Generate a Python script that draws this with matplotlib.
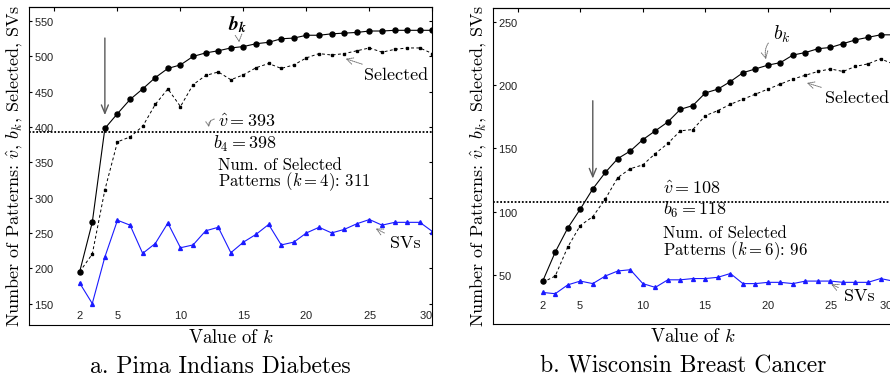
import matplotlib.pyplot as plt
import numpy as np

plt.rcParams['font.family'] = 'cmr10'
plt.rcParams['mathtext.fontset'] = 'cm'
plt.rcParams['axes.formatter.use_mathtext'] = True

k_values = np.arange(2, 31)
x_ticks = [2, 5, 10, 15, 20, 25, 30]

# Pima Indians Diabetes
pima_bk = [195, 265, 398, 419, 439, 454, 470, 483, 488, 500, 505, 508, 512, 514, 518,
           520, 525, 526, 530, 530, 532, 533, 534, 536, 536, 537, 537, 537, 537]
pima_selected = [195, 220, 311, 379, 386, 401, 432, 454, 429, 460, 473, 478, 467, 474, 484,
                 490, 483, 488, 498, 504, 502, 504, 508, 512, 506, 510, 512, 512, 504]
pima_svs = [179, 150, 216, 268, 261, 221, 235, 264, 229, 233, 253, 258, 222, 237, 248,
            262, 233, 237, 250, 258, 250, 255, 263, 269, 261, 265, 265, 265, 252]
pima_vhat = 393
pima_k = 4
pima_n_selected = 311
pima_yticks = [150, 200, 250, 300, 350, 400, 450, 500, 550]

# Wisconsin Breast Cancer
wbc_bk = [45, 68, 87, 102, 118, 131, 142, 148, 157, 164, 171, 181, 184, 194, 197,
          203, 210, 213, 216, 218, 224, 226, 229, 230, 233, 236, 238, 240, 240]
wbc_selected = [44, 49, 72, 89, 96, 110, 127, 134, 137, 146, 154, 164, 165, 176, 180,
                185, 189, 193, 197, 201, 205, 208, 211, 213, 211, 215, 217, 221, 217]
wbc_svs = [36, 35, 42, 45, 43, 49, 53, 54, 43, 40, 46, 46, 47, 47, 48,
           51, 43, 43, 44, 44, 43, 45, 45, 45, 44, 44, 44, 47, 45]
wbc_vhat = 108
wbc_k = 6
wbc_n_selected = 96
wbc_yticks = [50, 100, 150, 200, 250]

TEXT_SIZE = 13
NOTE_ARROW = dict(arrowstyle='->,head_length=0.35,head_width=0.18', color='0.45',
                  lw=0.7, ls=(0, (1, 1)))


def setup_axes(ax, ylim, yticks, xlabel_pad):
    ax.set_xlim(-2, 30)
    ax.set_ylim(*ylim)
    ax.set_xticks(x_ticks)
    ax.set_yticks(yticks)
    ax.tick_params(axis='x', direction='in', length=0, pad=-xlabel_pad,
                   labelsize=8, labelcolor='#222222')
    ax.tick_params(axis='y', direction='in', length=2.5, pad=-3.5, left=True, right=True,
                   labelsize=8, labelcolor='#222222')
    for lbl in ax.get_xticklabels() + ax.get_yticklabels():
        lbl.set_fontfamily('Liberation Sans')
    for lbl in ax.get_yticklabels():
        lbl.set_horizontalalignment('left')
    ax.get_xticklabels()[-1].set_horizontalalignment('right')
    top = ax.secondary_xaxis('top')
    top.set_xticks(range(0, 31, 5), labels=[''] * 7)
    top.tick_params(direction='in', length=3)
    for s in ax.spines.values():
        s.set_linewidth(0.8)
    ax.set_xlabel('Value of $k$', fontsize=13.5)
    ax.xaxis.set_label_coords(0.5, -0.012)
    ax.set_ylabel(r'Number of Patterns: $\hat{v}$, $b_k$, Selected, SVs', fontsize=13)
    ax.yaxis.set_label_coords(-0.012, 0.5)


def draw_series(ax, bk, selected, svs, vhat):
    ax.plot(k_values, bk, color='k', lw=0.8, marker='o', ms=3.6)
    ax.plot(k_values, selected, color='k', lw=0.7, ls=(0, (3, 2.5)), marker='s', ms=1.8)
    ax.plot(k_values, svs, color='#1a1aff', lw=0.8, marker='^', ms=2.8)
    ax.axhline(vhat, color='k', lw=1.3, ls=(0, (1, 1)))


fig = plt.figure(figsize=(8.9, 3.83), dpi=100)

# a. Pima Indians Diabetes
ax1 = fig.add_axes([0.0329, 0.1522, 0.4530, 0.8295])
draw_series(ax1, pima_bk, pima_selected, pima_svs, pima_vhat)
setup_axes(ax1, (120, 570), pima_yticks, 11)
bk4 = pima_bk[pima_k - 2]
ax1.annotate('', xy=(pima_k, bk4 + 15), xytext=(pima_k, 530),
             arrowprops=dict(arrowstyle='->,head_length=0.6,head_width=0.25', color='0.35', lw=1))
ax1.annotate(r'$\mathbfit{b}_{\mathbfit{k}}$', xy=(14.66, 520), xytext=(14.5, 546), fontsize=14,
             math_fontfamily='stix', ha='center', va='center', arrowprops=NOTE_ARROW)
ax1.annotate('Selected', xy=(22.9, 498), xytext=(24.6, 473), fontsize=TEXT_SIZE,
             ha='left', va='center', arrowprops=NOTE_ARROW)
ax1.annotate('SVs', xy=(25.3, 258), xytext=(26.6, 235), fontsize=TEXT_SIZE,
             ha='left', va='center', arrowprops=NOTE_ARROW)
ax1.annotate('', xy=(12.3, 396), xytext=(12.9, 412),
             arrowprops=dict(NOTE_ARROW, connectionstyle='arc3,rad=0.6'))
ax1.text(13.0, 408, r'$\hat{v}=%d$' % pima_vhat, fontsize=TEXT_SIZE, ha='left', va='center')
ax1.text(12.6, 376, r'$b_{%d}=%d$' % (pima_k, bk4), fontsize=TEXT_SIZE, ha='left', va='center')
ax1.text(13.0, 346, 'Num. of Selected', fontsize=12, ha='left', va='center')
ax1.text(13.0, 322, r'Patterns ($k=%d$): %d' % (pima_k, pima_n_selected), fontsize=12,
         ha='left', va='center')

# b. Wisconsin Breast Cancer
ax2 = fig.add_axes([0.5536, 0.154, 0.4498, 0.8243])
draw_series(ax2, wbc_bk, wbc_selected, wbc_svs, wbc_vhat)
setup_axes(ax2, (11, 261), wbc_yticks, 18)
bk6 = wbc_bk[wbc_k - 2]
ax2.annotate('', xy=(wbc_k, bk6 + 6), xytext=(wbc_k, 190),
             arrowprops=dict(arrowstyle='->,head_length=0.6,head_width=0.25', color='0.35', lw=1))
ax2.annotate('$b_k$', xy=(19.9, 218.5), xytext=(20.4, 240), fontsize=14,
             ha='left', va='center',
             arrowprops=dict(NOTE_ARROW, connectionstyle='arc3,rad=0.5'))
ax2.annotate('Selected', xy=(22.9, 202.6), xytext=(24.6, 189.5), fontsize=TEXT_SIZE,
             ha='left', va='center', arrowprops=NOTE_ARROW)
ax2.annotate('SVs', xy=(24.85, 43.3), xytext=(26.05, 32.7), fontsize=TEXT_SIZE,
             ha='left', va='center', arrowprops=NOTE_ARROW)
ax2.text(11.6, 118.4, r'$\hat{v}=%d$' % wbc_vhat, fontsize=TEXT_SIZE, ha='left', va='center')
ax2.text(11.6, 101, r'$b_{%d}=%d$' % (wbc_k, bk6), fontsize=TEXT_SIZE, ha='left', va='center')
ax2.text(11.6, 83, 'Num. of Selected', fontsize=12, ha='left', va='center')
ax2.text(11.6, 69, r'Patterns ($k=%d$): %d' % (wbc_k, wbc_n_selected), fontsize=12,
         ha='left', va='center')

fig.text(220 / 890, 1 - 366.7 / 383, 'a. Pima Indians Diabetes', fontsize=17,
         ha='center', va='center')
fig.text(683 / 890, 1 - 366.7 / 383, 'b. Wisconsin Breast Cancer', fontsize=17,
         ha='center', va='center')

fig.savefig('out.png', dpi=100)
